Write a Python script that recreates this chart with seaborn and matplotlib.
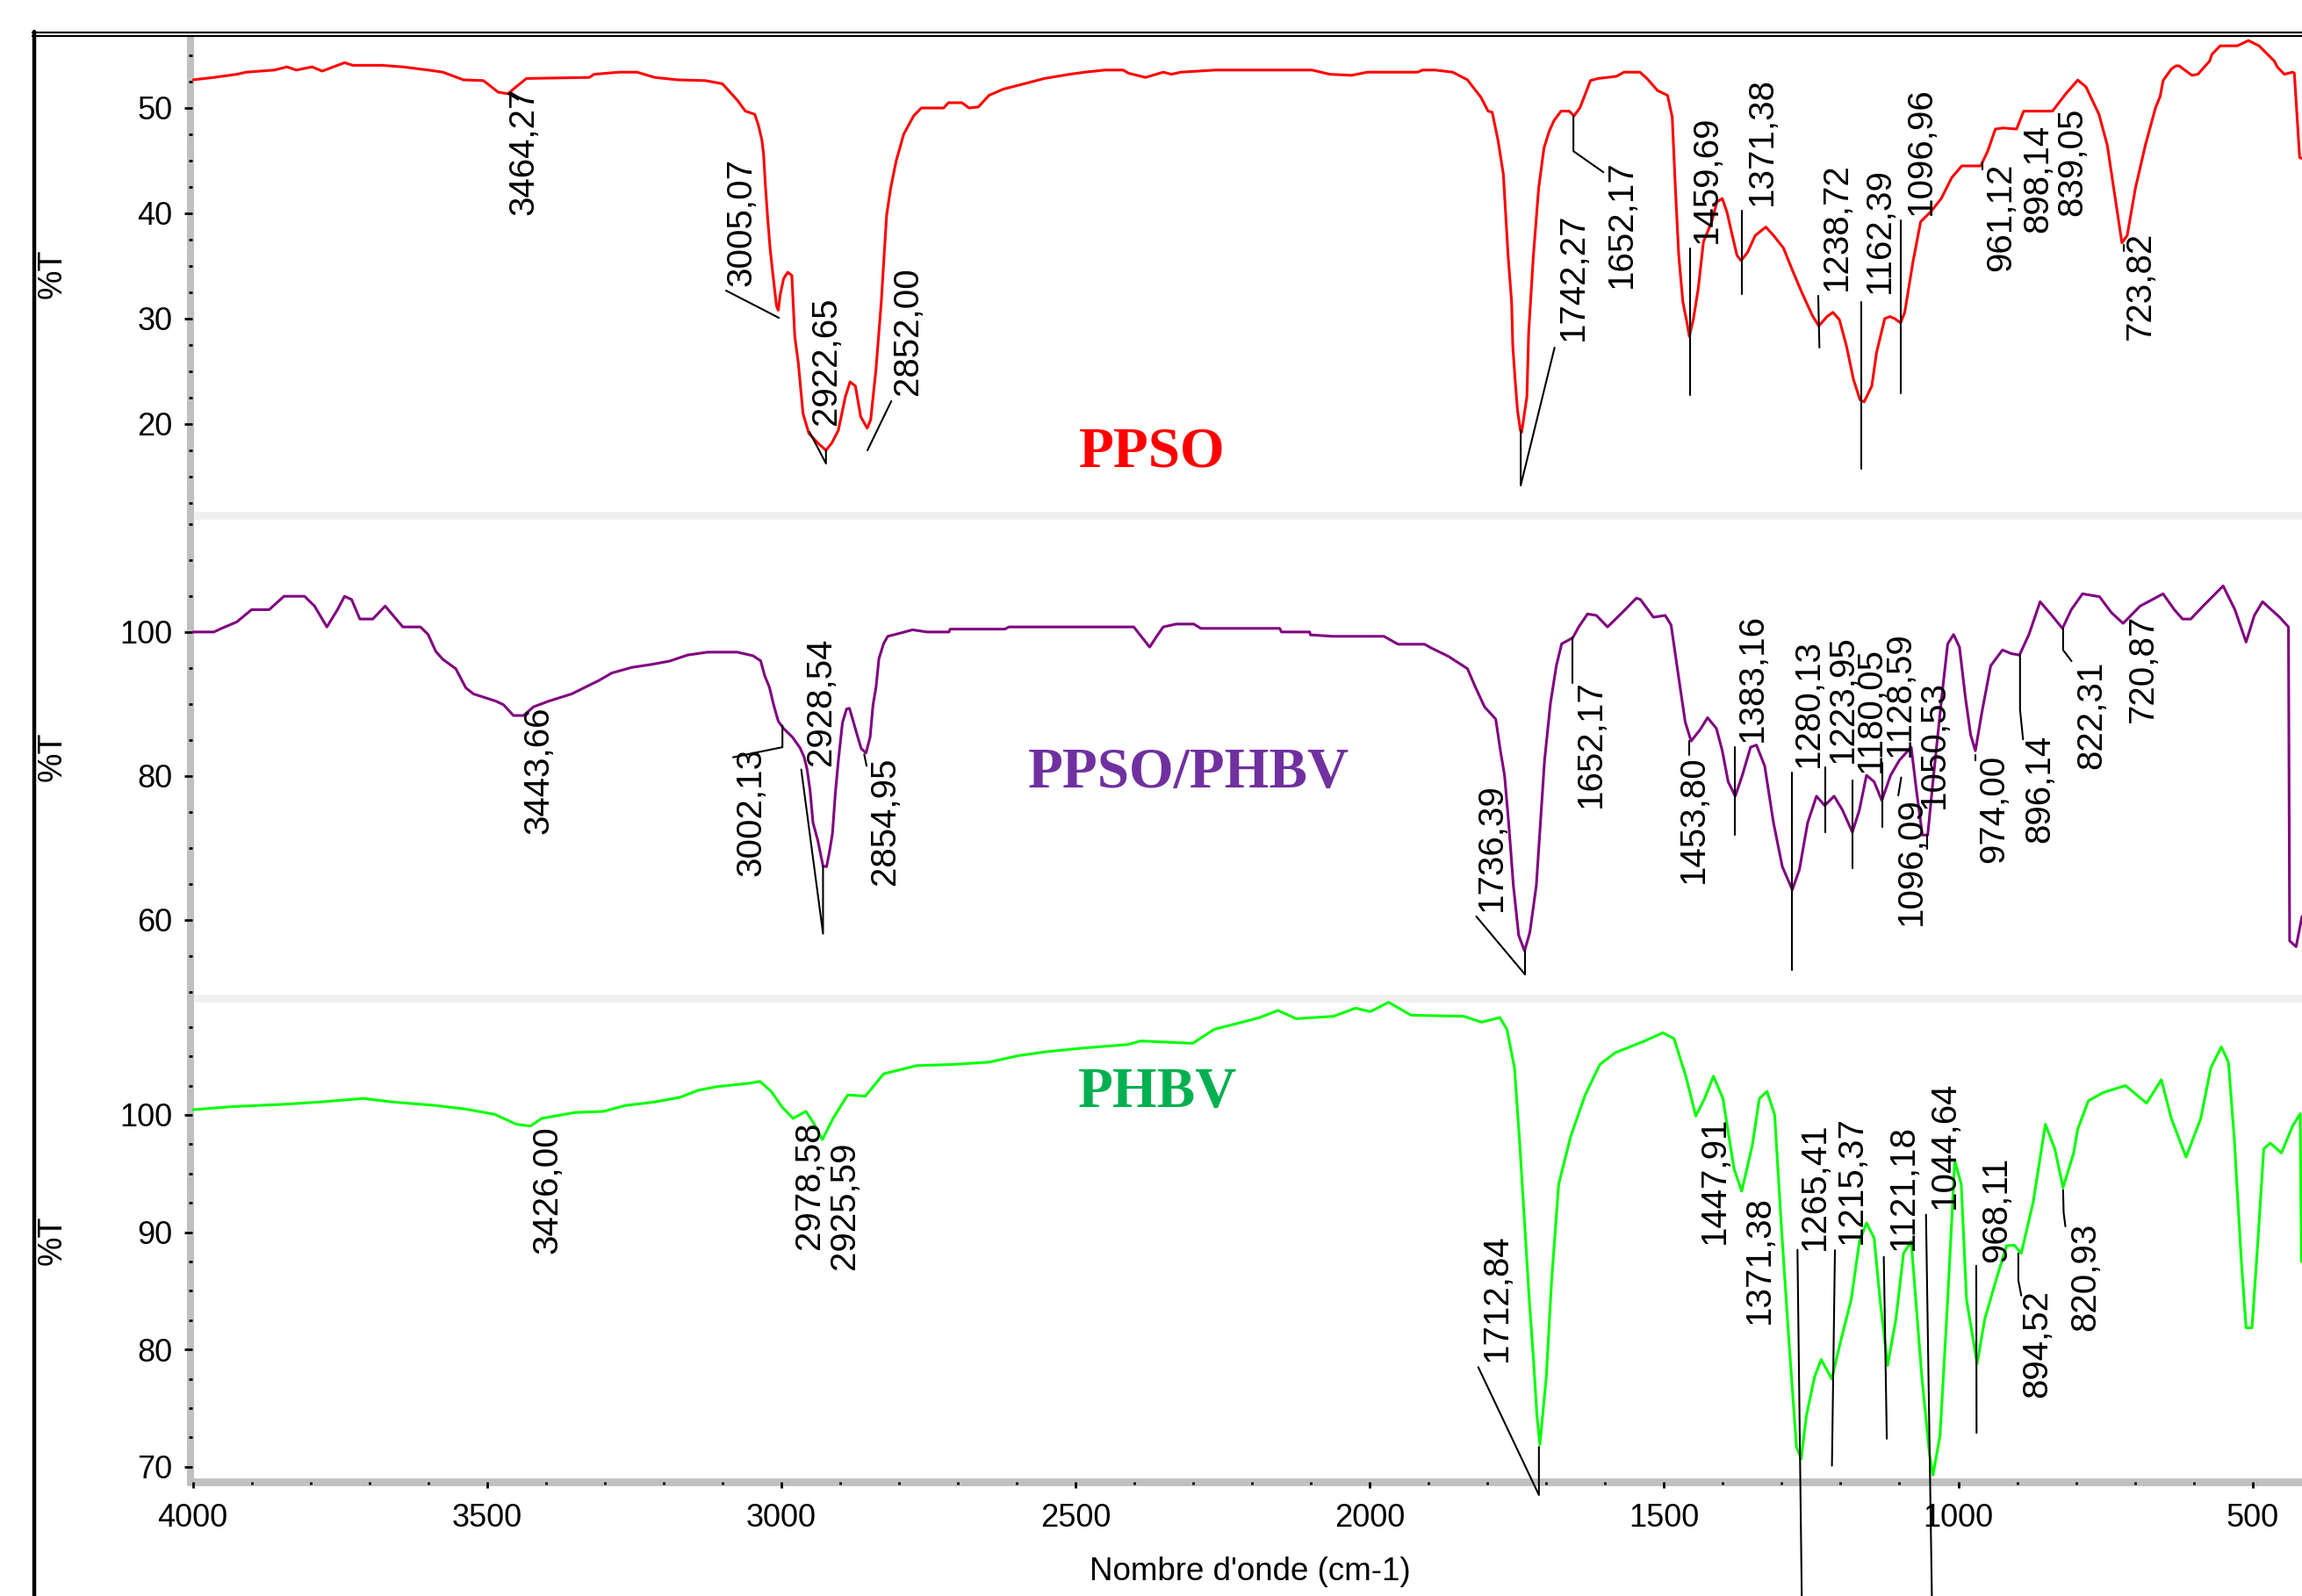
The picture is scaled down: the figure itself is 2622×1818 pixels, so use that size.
import matplotlib
matplotlib.use("Agg")
import matplotlib.pyplot as plt
import seaborn as sns
import pandas as pd
from matplotlib.lines import Line2D
from matplotlib.ticker import MultipleLocator

sns.set_theme(style="white")
plt.rcParams["font.family"] = ["Liberation Sans", "DejaVu Sans"]
plt.rcParams["text.color"] = "black"
plt.rcParams["xtick.color"] = "black"
plt.rcParams["ytick.color"] = "black"

# ---------------- spectra (wavenumber cm-1, %T) ----------------
ppso_wn = [4000, 3964, 3925, 3909, 3861, 3840, 3824, 3797, 3780, 3742, 3728, 3678, 3643, 3600, 3575,
           3540, 3506, 3481, 3464, 3455, 3433, 3326, 3318, 3275, 3245, 3215, 3176, 3129, 3100, 3087,
           3074, 3061, 3045, 3039, 3033, 3030, 3027, 3023, 3019, 3014, 3008, 3005, 3002, 2996, 2989,
           2982, 2977, 2971, 2963, 2953, 2938, 2924, 2914, 2903, 2891, 2883, 2874, 2865, 2854, 2848,
           2839, 2830, 2821, 2814, 2805, 2792, 2775, 2762, 2724, 2716, 2693, 2681, 2665, 2647, 2622,
           2587, 2553, 2510, 2484, 2450, 2419, 2410, 2381, 2363, 2351, 2337, 2321, 2262, 2098, 2068,
           2031, 2004, 1919, 1910, 1889, 1859, 1834, 1811, 1799, 1792, 1782, 1773, 1765, 1759, 1757,
           1753, 1749, 1744, 1742, 1738, 1733, 1730, 1722, 1713, 1704, 1695, 1687, 1675, 1661, 1653,
           1643, 1634, 1625, 1612, 1581, 1568, 1541, 1529, 1511, 1494, 1486, 1481, 1475, 1468, 1461,
           1457, 1450, 1442, 1433, 1419, 1410, 1401, 1393, 1384, 1376, 1369, 1358, 1345, 1327, 1314,
           1297, 1283, 1266, 1248, 1237, 1223, 1213, 1202, 1190, 1178, 1167, 1160, 1147, 1139, 1125,
           1116, 1108, 1098, 1091, 1077, 1064, 1046, 1029, 1011, 994, 962, 950, 937, 924, 901,
           889, 840, 818, 797, 783, 767, 761, 747, 732, 722, 713, 699, 682, 665, 657,
           652, 638, 630, 625, 603, 593, 573, 569, 555, 526, 507, 489, 463, 458, 446,
           432, 429, 420, 416]
ppso_t = [52.67, 52.9, 53.2, 53.4, 53.6, 53.9, 53.6, 53.9, 53.5, 54.3, 54.05, 54.05, 53.9, 53.6, 53.4,
          52.67, 52.6, 51.5, 51.35, 51.8, 52.8, 52.9, 53.2, 53.4, 53.4, 52.9, 52.67, 52.6, 52.3, 51.5,
          50.7, 49.7, 49.4, 48.4, 47.0, 45.6, 42.7, 39.5, 36.7, 34.1, 31.2, 30.8, 32.2, 33.8, 34.4,
          34.1, 28.3, 25.8, 21.0, 19.1, 18.2, 17.5, 18.2, 19.4, 22.6, 24.0, 23.6, 20.7, 19.6, 20.4,
          25.2, 31.6, 39.8, 42.4, 44.9, 47.5, 49.25, 50.0, 50.0, 50.5, 50.5, 50.0, 50.1, 51.2, 51.8,
          52.3, 52.8, 53.2, 53.4, 53.6, 53.6, 53.3, 52.9, 53.2, 53.4, 53.2, 53.4, 53.6, 53.6, 53.2,
          53.1, 53.4, 53.4, 53.6, 53.6, 53.4, 52.67, 51.0, 49.7, 49.6, 46.9, 43.7, 36.0, 31.6, 27.4,
          24.2, 21.3, 19.4, 19.2, 20.7, 22.6, 28.7, 36.0, 42.4, 46.2, 47.8, 48.8, 49.7, 49.7, 49.25,
          50.0, 51.3, 52.6, 52.8, 53.0, 53.4, 53.4, 52.8, 51.65, 51.2, 49.1, 42.7, 36.0, 31.6, 29.6,
          28.3, 30.0, 32.8, 37.3, 39.2, 41.1, 41.4, 40.1, 37.9, 36.0, 35.5, 36.3, 37.9, 38.7, 37.9,
          36.7, 34.75, 32.5, 30.3, 29.3, 30.2, 30.6, 29.9, 27.4, 24.2, 22.3, 22.1, 23.6, 26.75, 30.0,
          30.2, 30.0, 29.6, 30.6, 35.4, 39.2, 40.2, 41.4, 43.4, 44.5, 44.5, 45.9, 48.0, 48.1, 48.0,
          49.7, 49.7, 51.3, 52.65, 52.0, 50.1, 49.4, 46.5, 40.9, 37.2, 37.9, 42.4, 46.5, 50.0, 51.1,
          52.6, 53.7, 54.0, 54.0, 53.1, 53.2, 54.45, 55.1, 55.9, 55.9, 56.4, 55.9, 54.45, 53.9, 53.2,
          53.4, 53.3, 45.3, 45.2]

blend_wn = [4000, 3964, 3951, 3925, 3900, 3870, 3845, 3810, 3793, 3772, 3754, 3742, 3730, 3716, 3694,
            3673, 3643, 3613, 3600, 3587, 3575, 3553, 3536, 3523, 3506, 3485, 3472, 3455, 3438, 3421,
            3395, 3356, 3335, 3309, 3288, 3254, 3220, 3190, 3159, 3125, 3075, 3048, 3035, 3028, 3020,
            3013, 3005, 2996, 2981, 2968, 2961, 2956, 2951, 2946, 2938, 2933, 2929, 2923, 2918, 2913,
            2908, 2903, 2896, 2889, 2884, 2871, 2864, 2856, 2849, 2844, 2839, 2834, 2826, 2819, 2795,
            2777, 2752, 2715, 2713, 2620, 2613, 2496, 2401, 2386, 2374, 2362, 2351, 2329, 2299, 2287,
            2153, 2150, 2102, 2101, 2063, 1976, 1952, 1907, 1896, 1866, 1834, 1820, 1805, 1786, 1778,
            1771, 1764, 1756, 1747, 1737, 1728, 1717, 1710, 1703, 1693, 1683, 1674, 1655, 1645, 1630,
            1615, 1596, 1571, 1547, 1540, 1518, 1498, 1488, 1478, 1464, 1454, 1439, 1426, 1411, 1401,
            1391, 1379, 1367, 1353, 1343, 1329, 1314, 1299, 1282, 1270, 1256, 1241, 1227, 1211, 1197,
            1180, 1168, 1156, 1143, 1130, 1115, 1100, 1080, 1071, 1061, 1052, 1042, 1027, 1018, 1008,
            998, 988, 979, 971, 960, 945, 925, 910, 896, 880, 861, 841, 823, 808, 789,
            760, 740, 720, 691, 652, 633, 619, 605, 584, 550, 530, 511, 497, 483, 454,
            439, 437, 426, 416]
blend_t = [100.0, 100.0, 100.5, 101.4, 103.1, 103.1, 104.96, 104.96, 103.6, 100.7, 103.1, 104.96, 104.5, 101.8, 101.8,
           103.6, 100.7, 100.7, 99.65, 97.3, 96.2, 94.9, 92.25, 91.4, 90.95, 90.4, 89.9, 88.4, 88.4, 89.6,
           90.4, 91.4, 92.25, 93.3, 94.3, 95.08, 95.5, 95.95, 96.8, 97.2, 97.2, 96.7, 96.0, 93.9, 92.3,
           89.9, 87.6, 86.6, 85.4, 83.9, 82.6, 80.9, 78.0, 73.5, 71.1, 69.1, 67.5, 67.4, 69.5, 72.0,
           77.7, 82.1, 87.4, 89.3, 89.4, 85.7, 83.8, 83.2, 85.4, 89.9, 92.3, 96.3, 98.4, 99.4, 99.9,
           100.3, 100.0, 100.0, 100.4, 100.4, 100.7, 100.7, 100.7, 99.15, 97.9, 99.4, 100.7, 101.1, 101.1, 100.5,
           100.5, 100.0, 100.0, 99.6, 99.4, 99.4, 98.3, 98.3, 97.8, 96.6, 94.9, 92.25, 89.6, 87.9, 83.5,
           80.1, 73.5, 64.8, 57.9, 55.7, 58.3, 64.8, 73.5, 82.2, 90.1, 95.3, 98.35, 99.2, 100.7, 102.5,
           102.3, 100.7, 102.7, 104.7, 104.5, 102.05, 102.3, 100.96, 95.3, 87.5, 84.85, 86.4, 88.1, 86.6, 83.5,
           79.2, 77.2, 80.1, 84.0, 84.3, 81.4, 73.5, 67.4, 64.2, 67.0, 73.5, 77.2, 75.9, 77.2, 75.3,
           72.2, 75.3, 80.1, 79.2, 76.6, 80.1, 82.2, 84.0, 77.9, 71.8, 71.8, 80.1, 91.8, 98.35, 99.65,
           97.9, 90.95, 85.7, 83.5, 88.8, 95.3, 97.5, 97.0, 96.8, 99.65, 104.2, 102.3, 100.5, 103.1, 105.3,
           104.9, 102.7, 101.2, 103.6, 105.3, 103.1, 101.8, 101.8, 103.6, 106.4, 103.1, 98.6, 102.3, 104.2, 102.05,
           100.7, 57.1, 56.3, 60.5]

phbv_wn = [4000, 3935, 3846, 3784, 3710, 3660, 3587, 3537, 3487, 3450, 3426, 3407, 3351, 3302, 3265,
           3215, 3172, 3141, 3110, 3054, 3036, 3017, 2999, 2980, 2958, 2945, 2930, 2912, 2887, 2857,
           2826, 2770, 2708, 2646, 2597, 2547, 2486, 2411, 2389, 2301, 2264, 2213, 2187, 2156, 2125,
           2062, 2024, 1999, 1968, 1930, 1840, 1810, 1779, 1767, 1754, 1745, 1737, 1729, 1722, 1716,
           1711, 1700, 1691, 1679, 1659, 1634, 1609, 1583, 1533, 1502, 1483, 1463, 1446, 1431, 1416,
           1400, 1381, 1368, 1350, 1338, 1325, 1312, 1301, 1288, 1275, 1267, 1258, 1244, 1233, 1215,
           1199, 1182, 1168, 1156, 1143, 1133, 1120, 1106, 1093, 1080, 1062, 1049, 1043, 1031, 1018,
           1006, 995, 986, 968, 955, 936, 918, 905, 893, 873, 852, 836, 822, 804, 797,
           779, 754, 716, 680, 655, 638, 613, 588, 571, 553, 541, 531, 519, 511, 501,
           491, 481, 470, 451, 432, 419, 417]
phbv_t = [100.44, 100.7, 100.9, 101.1, 101.4, 101.1, 100.8, 100.5, 100.05, 99.2, 99.05, 99.7, 100.2, 100.3, 100.8,
          101.1, 101.5, 102.1, 102.4, 102.7, 102.85, 102.0, 100.7, 99.7, 100.3, 99.3, 97.9, 99.7, 101.7, 101.6,
          103.5, 104.2, 104.3, 104.5, 105.05, 105.4, 105.7, 106.0, 106.3, 106.1, 107.3, 107.95, 108.3, 108.9, 108.2,
          108.4, 109.1, 108.8, 109.6, 108.5, 108.4, 107.9, 108.3, 107.3, 104.0, 97.4, 90.8, 84.25, 79.3, 74.4,
          71.9, 77.7, 85.9, 94.1, 98.1, 101.7, 104.3, 105.3, 106.3, 107.0, 106.5, 103.3, 99.9, 101.4, 103.3,
          101.4, 95.4, 93.5, 97.4, 101.4, 102.0, 100.0, 90.8, 80.9, 71.7, 70.7, 74.4, 77.7, 79.15, 77.5,
          80.9, 84.25, 89.2, 90.8, 89.5, 84.25, 78.65, 82.6, 88.2, 89.2, 77.7, 71.1, 69.3, 72.7, 84.25,
          96.1, 94.1, 84.25, 78.8, 82.6, 85.9, 88.85, 88.9, 88.2, 92.5, 99.2, 97.1, 93.8, 96.75, 98.8,
          101.2, 101.9, 102.5, 101.0, 103.0, 99.7, 96.4, 99.7, 104.0, 105.8, 104.5, 97.9, 87.5, 81.85, 81.85,
          89.2, 97.1, 97.6, 96.75, 99.05, 100.1, 87.5]

# ---------------- peak labels ----------------
ppso_labels = ["3464,27", "3005,07", "2922,65", "2852,00", "1742,27", "1652,17", "1459,69", "1371,38",
               "1238,72", "1162,39", "1096,96", "961,12", "898,14", "839,05", "723,82"]
ppso_lab_x = [3437, 3068, 2924, 2785, 1654, 1572, 1427, 1333, 1207, 1134, 1064, 928, 864, 807, 690]
ppso_lab_y = [51.96, 45.25, 32.0, 34.9, 40.0, 45.1, 49.25, 52.9, 44.8, 44.3, 52.0, 44.8, 48.45, 50.04, 38.25]
ppso_leaders = [
    [(3464, 51.35), (3447, 50.8)],
    [(3094, 32.67), (3004, 30.08)],
    [(2952, 19.25), (2924, 16.25), (2924, 17.5)],
    [(2813, 22.17), (2853.5, 17.5)],
    [(1686, 27.25), (1743.5, 14.17), (1743.5, 19.4)],
    [(1654, 49.25), (1654, 45.9), (1603, 43.9)],
    [(1455.6, 36.67), (1455.6, 22.75)],
    [(1367.6, 40.25), (1367.6, 32.33)],
    [(1238, 32.17), (1236, 27.25)],
    [(1164.7, 31.6), (1164.7, 15.75)],
    [(1098.3, 39.33), (1098.3, 22.9)],
    [(959.7, 44.8), (959.7, 44.2)],
    [(719.4, 37.0), (719.4, 36.4)],
]

blend_labels = ["3443,66", "3002,13", "2928,54", "2854,95", "1736,39", "1652,17", "1453,80", "1383,16",
                "1280,13", "1223,95", "1180,05", "1128,59", "1096,09", "1050,53", "974,00", "896,14",
                "822,31", "720,87"]
blend_lab_x = [3413, 3052, 2933, 2824, 1793, 1624, 1450, 1350, 1255, 1197, 1148, 1099, 1080, 1041,
               939, 861, 774, 686]
blend_lab_y = [89.64, 83.9, 99.2, 82.6, 78.97, 93.34, 82.9, 102.5, 99.0, 99.65, 97.9, 100.1, 77.0,
               93.34, 82.9, 85.7, 95.95, 102.5]
blend_leaders = [
    [(3082, 82.6), (2998, 84.0), (2998, 87.0)],
    [(2966, 80.9), (2929, 58.1), (2929, 67.5)],
    [(2859, 83.0), (2855, 81.4)],
    [(1819, 60.5), (1736.2, 52.44), (1736.2, 55.7)],
    [(1655.5, 99.27), (1655.5, 92.9)],
    [(1457, 84.9), (1457, 82.9)],
    [(1379.5, 84.0), (1379.5, 71.8)],
    [(1282.5, 80.5), (1282.5, 53.0)],
    [(1226, 81.2), (1226, 72.2)],
    [(1179.6, 79.4), (1179.6, 67.2)],
    [(1128.9, 81.8), (1128.9, 72.9)],
    [(1102, 77.3), (1097, 79.8)],
    [(1053.7, 71.8), (1053.7, 69.9)],
    [(970.7, 82.9), (970.7, 82.2)],
    [(895.1, 96.8), (895.1, 89.2), (890, 85.1)],
    [(822, 100.5), (822, 97.5), (807.6, 95.95)],
]

phbv_labels = ["3426,00", "2978,58", "2925,59", "1712,84", "1447,91", "1371,38", "1265,41", "1215,37",
               "1121,18", "1044,64", "968,11", "894,52", "820,93"]
phbv_lab_x = [3397, 2952, 2893, 1784.5, 1414, 1338, 1244, 1181, 1093, 1024, 935.5, 866, 784]
phbv_lab_y = [99.06, 99.4, 97.74, 89.84, 99.9, 93.1, 99.4, 99.9, 99.2, 102.84, 96.4, 85.07, 90.83]
phbv_leaders = [
    [(1815.7, 78.5), (1712.6, 67.6), (1712.6, 71.7)],
    [(1273.3, 88.5), (1266, 59.0)],
    [(1209.6, 88.46), (1214.7, 70.1)],
    [(1126.6, 87.9), (1121.5, 72.4)],
    [(1054.9, 91.5), (1044.9, 59.0)],
    [(969.5, 87.14), (969, 72.9)],
    [(898, 88.2), (898, 85.9), (893, 84.6)],
    [(822, 93.6), (821, 91.65), (818, 90.5)],
]

sample_names = ["PPSO", "PPSO/PHBV", "PHBV"]
name_x = [2370, 2308, 2360]
name_y = [17.33, 80.37, 101.9]

# ---------------- figure layout ----------------
W, H = 2622, 1818
fig = plt.figure(figsize=(W / 100, H / 100), dpi=100)
AX_L = 219.5


def rect(top, bottom):
    return [AX_L / W, 1 - bottom / H, (W - AX_L) / W, (bottom - top) / H]


ax1 = fig.add_axes(rect(42, 587))
ax2 = fig.add_axes(rect(587, 1137))
ax3 = fig.add_axes(rect(1137, 1688))
axes = [ax1, ax2, ax3]

spectra = [(ppso_wn, ppso_t, "#ff0000"), (blend_wn, blend_t, "#800080"), (phbv_wn, phbv_t, "#00ff00")]
ylims = [(11.33, 56.75), (49.15, 116.2), (68.72, 109.95)]
majors = [10, 20, 10]
minors = [2.5, 5, 2.5]
name_colors = ["#ff0000", "#7030a0", "#00b050"]
label_sets = [(ppso_labels, ppso_lab_x, ppso_lab_y, ppso_leaders),
              (blend_labels, blend_lab_x, blend_lab_y, blend_leaders),
              (phbv_labels, phbv_lab_x, phbv_lab_y, phbv_leaders)]

for i, ax in enumerate(axes):
    wn, t, col = spectra[i]
    df = pd.DataFrame({"wn": wn, "T": t})
    sns.lineplot(data=df, x="wn", y="T", ax=ax, color=col, linewidth=2.2,
                 estimator=None, sort=False, legend=False)
    ax.set_facecolor("none")
    ax.set_xlim(4000, 416)
    ax.set_ylim(*ylims[i])
    ax.set_xlabel("")
    ax.set_ylabel("")
    for s in ax.spines.values():
        s.set_visible(False)
    ax.yaxis.set_major_locator(MultipleLocator(majors[i]))
    ax.yaxis.set_minor_locator(MultipleLocator(minors[i]))
    ax.tick_params(axis="y", which="major", direction="out", length=6.5, width=2,
                   labelsize=26, pad=10, left=True, colors="black")
    ax.tick_params(axis="y", which="minor", direction="out", length=3, width=2, left=True, colors="black")
    if i < 2:
        ax.tick_params(axis="x", which="both", bottom=False, labelbottom=False)
    else:
        ax.xaxis.set_major_locator(MultipleLocator(500))
        ax.xaxis.set_minor_locator(MultipleLocator(100))
        ax.tick_params(axis="x", which="major", direction="out", length=5, width=2,
                       labelsize=26, pad=12, bottom=True, colors="black")
        ax.tick_params(axis="x", which="minor", direction="out", length=2.5, width=2,
                       bottom=True, colors="black")

    labs, lx, ly, leaders = label_sets[i]
    for s, x, y in zip(labs, lx, ly):
        ax.text(x, y, s, rotation=90, ha="center", va="top", fontsize=29,
                color="black", clip_on=False)
    for pts in leaders:
        xs = [p[0] for p in pts]
        ys = [p[1] for p in pts]
        ax.plot(xs, ys, color="black", lw=1.5, clip_on=False, zorder=3)

    ax.text(name_x[i], name_y[i], sample_names[i], color=name_colors[i], fontsize=47,
            fontweight="bold", family="Liberation Serif", ha="center", va="center")

# ---------------- axis bars, separators and frame ----------------
def fx(p):
    return p / W


def fy(p):
    return 1 - p / H


bars = [
    ([fx(217), fx(217)], [fy(42), fy(1692)], "#c0c0c0", 5.8),
    ([fx(221), 1.0], [fy(587), fy(587)], "#efefef", 6.3),
    ([fx(221), 1.0], [fy(1137), fy(1137)], "#efefef", 6.3),
    ([fx(213), 1.0], [fy(1688), fy(1688)], "#c0c0c0", 6.3),
]
for xs, ys, c, lw in bars:
    fig.add_artist(Line2D(xs, ys, color=c, lw=lw, zorder=-1, solid_capstyle="butt"))

fig.add_artist(Line2D([fx(37), 1.0], [fy(37), fy(37)], color="black", lw=1.6, zorder=5))
fig.add_artist(Line2D([fx(37), 1.0], [fy(40.5), fy(40.5)], color="black", lw=1.6, zorder=5))
fig.add_artist(Line2D([fx(38.5), fx(38.5)], [fy(36), 0.0], color="black", lw=3.2, zorder=5))

for yc in [312, 862, 1413]:
    fig.text(fx(60), fy(yc), "%T", rotation=90, ha="center", va="center", fontsize=27, color="black")

fig.text(fx(1424), fy(1790), "Nombre d'onde (cm-1)", ha="center", va="center", fontsize=26.5, color="black")

fig.savefig("out.png", dpi=100)
